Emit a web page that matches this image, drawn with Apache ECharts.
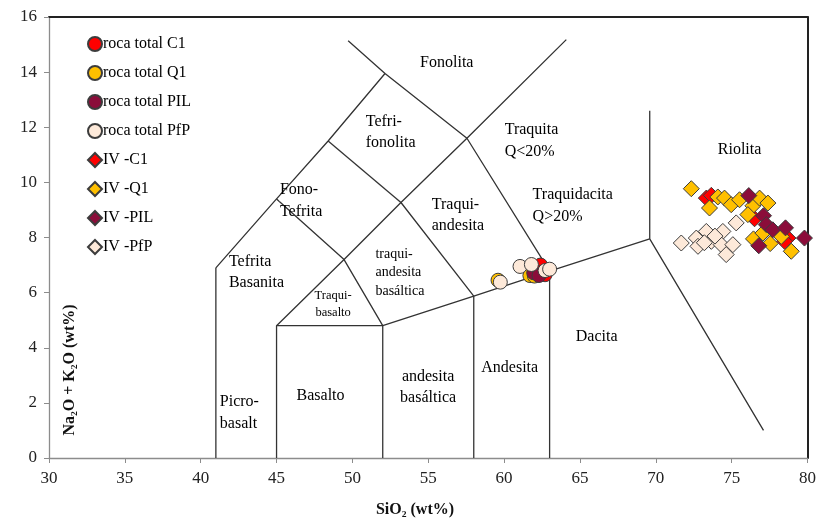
<!DOCTYPE html>
<html><head><meta charset="utf-8">
<script src="https://cdn.jsdelivr.net/npm/echarts@6/dist/echarts.min.js"></script>
<style>html,body{margin:0;padding:0;background:#fff}#c{width:819px;height:522px}</style>
</head><body><div id="c"></div>
<script>
const FONT = '"Liberation Serif","Times New Roman",serif';

// Whole-rock samples (circles)
const rocaC1  = [[62.4,7.0],[62.7,6.65],[62.2,6.75]];
const rocaQ1  = [[59.6,6.45],[61.7,6.62],[62.0,6.6]];
const rocaPIL = [[61.95,6.72],[62.3,6.62]];
const rocaPfP = [[59.75,6.38],[61.05,6.95],[61.8,7.02],[62.7,6.8],[63.0,6.85]];

// IV samples (diamonds)
const ivC1  = [[73.33,9.43],[73.66,9.53],[76.51,8.68],[78.71,7.98],[78.49,7.86]];
const ivQ1  = [[72.34,9.77],[74.09,9.47],[73.54,9.07],[74.53,9.43],[74.97,9.19],[75.52,9.37],
               [76.4,9.15],[76.84,9.43],[77.39,9.25],[76.07,8.83],[76.44,7.95],[77.54,7.78],
               [78.93,7.5],[77.06,8.16],[78.27,8.04]];
const ivPIL = [[76.13,9.52],[77.1,8.79],[77.28,8.47],[77.71,8.28],[78.55,8.35],[79.8,7.98],[76.79,7.7]];
const ivPfP = [[71.68,7.8],[72.67,7.98],[73.33,8.22],[74.42,8.22],[75.3,8.53],[72.78,7.68],
               [73.66,7.86],[74.31,7.74],[75.08,7.74],[74.64,7.38],[73.2,7.81],[73.9,8.05]];

const seriesNames = ['roca total C1','roca total Q1','roca total PIL','roca total PfP','IV -C1','IV -Q1','IV -PIL','IV -PfP'];
const seriesData  = [rocaC1, rocaQ1, rocaPIL, rocaPfP, ivC1, ivQ1, ivPIL, ivPfP];
const seriesColors = ['#FF0000','#FFC000','#8B0D3A','#FDE9D9','#FF0000','#FFC000','#8B0D3A','#FDE9D9'];
const seriesSymbols = ['circle','circle','circle','circle','diamond','diamond','diamond','diamond'];

// TAS field boundaries
const boundaries = [
  [[41,0],[41,6.9]],
  [[41,6.9],[45,9.4],[48.4,11.5],[52.15,13.95]],
  [[49.72,15.14],[52.15,13.95],[57.55,11.6],[64.1,15.18]],
  [[45,9.4],[49.45,7.2],[53.2,9.27],[57.55,11.6]],
  [[48.4,11.5],[53.2,9.27]],
  [[45,0],[45,4.8],[49.45,7.2],[52,4.8],[52,0]],
  [[45,4.8],[52,4.8]],
  [[52,4.8],[58,5.87],[63,6.78],[69.6,7.95]],
  [[53.2,9.27],[58,5.87],[58,0]],
  [[57.55,11.6],[63,6.78],[63,0]],
  [[69.6,12.6],[69.6,7.95],[77.1,1.0]]
];

// Field names: [x, y, text, align, fontSize]
const fieldLabels = [
  [56.22,14.34,'Fonolita','center',16],
  [50.88,11.82,'Tefri-\nfonolita','left',16],
  [60.04,11.51,'Traquita\nQ<20%','left',16],
  [45.22,9.33,'Fono-\nTefrita','left',16],
  [55.23,8.79,'Traqui-\nandesita','left',16],
  [61.88,9.15,'Traquidacita\nQ>20%','left',16],
  [75.52,11.19,'Riolita','center',16],
  [41.86,6.73,'Tefrita\nBasanita','left',16],
  [51.52,6.72,'traqui-\nandesita\nbasáltica','left',14],
  [48.73,5.58,'Traqui-\nbasalto','center',12.5],
  [47.9,2.26,'Basalto','center',16],
  [54.99,2.55,'andesita\nbasáltica','center',16],
  [41.26,1.64,'Picro-\nbasalt','left',16],
  [60.37,3.28,'Andesita','center',16],
  [66.1,4.41,'Dacita','center',16]
];

const chart = echarts.init(document.getElementById('c'), null, {renderer:'canvas'});

const series = [];
boundaries.forEach(seg => series.push({
  type:'line', data:seg, showSymbol:false, symbol:'none', silent:true, z:1,
  lineStyle:{color:'#333', width:1.3}, animation:false
}));
series.push({
  type:'scatter', name:'labels', silent:true, z:2, symbolSize:1,
  itemStyle:{color:'#fff', opacity:1},
  data: fieldLabels.map(l => ({name:l[2], value:[l[0],l[1]],
    label:{align:l[3], fontSize:l[4], lineHeight: l[4]*1.32}})),
  label:{show:true, position:'inside', formatter:'{b}', color:'#000', fontFamily:FONT, verticalAlign:'middle'},
  animation:false
});
seriesNames.forEach((n,i) => series.push({
  type:'scatter', name:n, data:seriesData[i], symbol:seriesSymbols[i],
  symbolSize: seriesSymbols[i]==='circle'?14:16, z:3+i,
  itemStyle:{color:seriesColors[i], borderColor:'#3c3c3c', borderWidth:1, opacity:1},
  animation:false
}));

chart.setOption({
  animation:false,
  backgroundColor:'#fff',
  grid:{left:49, right:11, top:17, bottom:64},
  legend:{
    data:seriesNames, orient:'vertical', left:82, top:31, itemGap:13,
    itemWidth:14, itemHeight:14,
    textStyle:{fontFamily:FONT, fontSize:16, color:'#000', padding:[0,0,0,-4]}
  },
  xAxis:[{
    type:'value', min:30, max:80, interval:5,
    axisLine:{show:true, lineStyle:{color:'#8c8c8c', width:1.3}},
    axisTick:{show:true, length:5, lineStyle:{color:'#8c8c8c'}},
    axisLabel:{fontFamily:FONT, fontSize:17, color:'#222', margin:12},
    splitLine:{show:false}
  },{
    type:'value', min:30, max:80, position:'top',
    axisLine:{show:true, onZero:false, lineStyle:{color:'#222', width:2}},
    axisTick:{show:false}, axisLabel:{show:false}, splitLine:{show:false}
  }],
  yAxis:[{
    type:'value', min:0, max:16, interval:2,
    axisLine:{show:true, lineStyle:{color:'#8c8c8c', width:1.3}},
    axisTick:{show:true, length:5, lineStyle:{color:'#8c8c8c'}},
    axisLabel:{fontFamily:FONT, fontSize:17, color:'#222', margin:12},
    splitLine:{show:false}
  },{
    type:'value', min:0, max:16, position:'right',
    axisLine:{show:true, onZero:false, lineStyle:{color:'#222', width:2}},
    axisTick:{show:false}, axisLabel:{show:false}, splitLine:{show:false}
  }],
  graphic:[
    {type:'text', x:415, y:510, style:{text:'SiO₂ (wt%)', font:'bold 16px '+FONT, fill:'#111', align:'center', verticalAlign:'middle'}},
    {type:'text', x:70, y:370, rotation:Math.PI/2, style:{text:'Na₂O + K₂O (wt%)', font:'bold 16px '+FONT, fill:'#111', align:'center', verticalAlign:'middle'}}
  ],
  series: series
});
</script>
</body></html>
